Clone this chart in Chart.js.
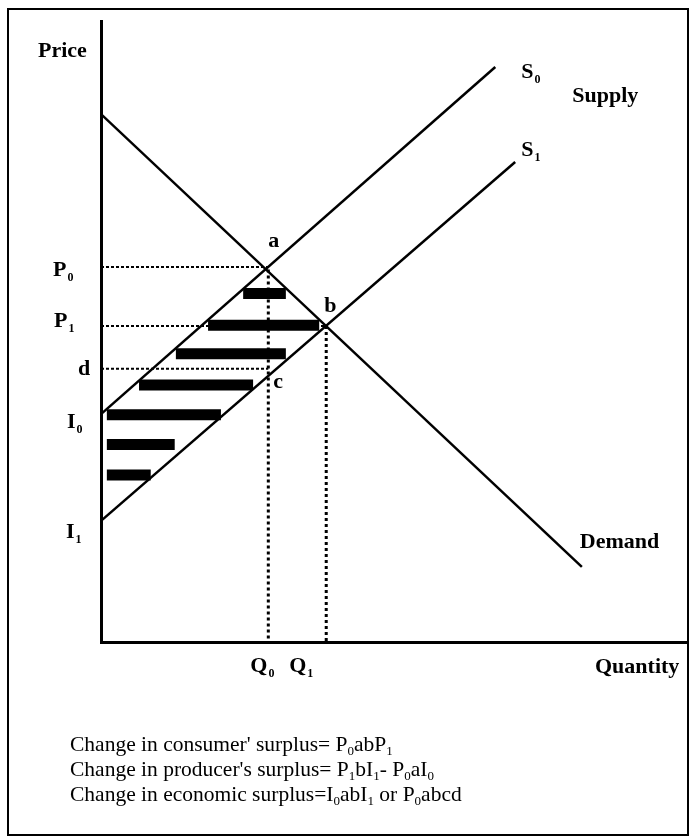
<!DOCTYPE html>
<html>
<head>
<meta charset="utf-8">
<title>Consumer and producer surplus</title>
<script src="https://cdn.jsdelivr.net/npm/chart.js@4.4.1/dist/chart.umd.min.js"></script>
<style>
  html, body { margin: 0; padding: 0; background: #fff; }
  #wrap { position: relative; width: 692px; height: 838px; }
  #frame { position: absolute; left: 7px; top: 8px; width: 678px; height: 824px; border: 2px solid #000; }
  canvas { position: absolute; left: 0; top: 0; }
  #notes { position: absolute; left: 70px; top: 732px; font-family: "Liberation Serif", "Times New Roman", serif;
           font-size: 21.5px; line-height: 25px; color: #000; white-space: nowrap; }
  #notes sub { font-size: 13px; vertical-align: -4px; line-height: 0; }
</style>
</head>
<body>
<div id="wrap">
  <div id="frame"></div>
  <canvas id="chart" width="692" height="838"></canvas>
  <div id="notes">
    <div>Change in consumer' surplus= P<sub>0</sub>abP<sub>1</sub></div>
    <div>Change in producer's surplus= P<sub>1</sub>bI<sub>1</sub>- P<sub>0</sub>aI<sub>0</sub></div>
    <div>Change in economic surplus=I<sub>0</sub>abI<sub>1</sub> or P<sub>0</sub>abcd</div>
  </div>
</div>
<script>
// curves (quantity, price) end points
const demandQ = [0, 82.2];
const demandP = [85.0, 12.1];
const supply0Q = [0, 67.4];
const supply0P = [36.7, 92.6];
const supply1Q = [0, 70.8];
const supply1P = [19.5, 77.3];

// marked points a, b, c
const pointNames = ['a', 'b', 'c'];
const pointQ = [28.6, 38.5, 28.6];
const pointP = [60.0, 50.9, 42.8];

// tick labels on the axes
const priceTickLabels = ['P_0', 'P_1', 'd', 'I_0', 'I_1'];
const priceTickValues = [60.4, 50.9, 44.0, 36.7, 19.5];
const quantityTickLabels = ['Q_0', 'Q_1'];
const quantityTickValues = [28.6, 38.5];

// hatching bars between S0 and S1
const barP = [56.1, 51.0, 46.4, 41.4, 36.6, 31.8, 26.9];
const barStart = [24.3, 18.3, 12.8, 6.5, 1.0, 1.0, 1.0];
const barEnd = [31.6, 37.3, 31.6, 26.0, 20.5, 12.6, 8.5];

const seg = (q, p) => q.map((v, i) => ({ x: v, y: p[i] }));

const lineStyle = { showLine: true, pointRadius: 0, borderColor: '#000', fill: false };

const datasets = [];
datasets.push({ ...lineStyle, data: seg(demandQ, demandP), borderWidth: 2.5 });
datasets.push({ ...lineStyle, data: seg(supply0Q, supply0P), borderWidth: 2.5 });
datasets.push({ ...lineStyle, data: seg(supply1Q, supply1P), borderWidth: 2.5 });

// dotted guides
datasets.push({ ...lineStyle, data: [{ x: 0, y: priceTickValues[0] }, { x: pointQ[0], y: priceTickValues[0] }], borderWidth: 2, borderDash: [3, 2] });
datasets.push({ ...lineStyle, data: [{ x: 0, y: priceTickValues[1] }, { x: pointQ[1], y: priceTickValues[1] }], borderWidth: 2, borderDash: [3, 2] });
datasets.push({ ...lineStyle, data: [{ x: 0, y: priceTickValues[2] }, { x: pointQ[2], y: priceTickValues[2] }], borderWidth: 2, borderDash: [3, 2] });
datasets.push({ ...lineStyle, data: [{ x: quantityTickValues[0], y: pointP[0] }, { x: quantityTickValues[0], y: 0 }], borderWidth: 3, borderDash: [3, 3] });
datasets.push({ ...lineStyle, data: [{ x: quantityTickValues[1], y: pointP[1] }, { x: quantityTickValues[1], y: 0 }], borderWidth: 3, borderDash: [3, 3] });

// bars
barP.forEach((p, i) => {
  datasets.push({ ...lineStyle, data: [{ x: barStart[i], y: p }, { x: barEnd[i], y: p }], borderWidth: 11, borderCapStyle: 'butt' });
});

const FONT = '"Liberation Serif", "Times New Roman", serif';

function drawLabel(ctx, label, x, y) {
  const parts = label.split('_');
  ctx.font = 'bold 22px ' + FONT;
  ctx.fillText(parts[0], x, y);
  if (parts[1]) {
    const w = ctx.measureText(parts[0]).width;
    ctx.font = 'bold 12px ' + FONT;
    ctx.fillText(parts[1], x + w + 1, y + 5);
  }
}

const labelPlugin = {
  id: 'econLabels',
  afterDraw(chart) {
    const { ctx, scales: { x, y }, chartArea } = chart;
    ctx.save();
    ctx.fillStyle = '#000';
    ctx.textBaseline = 'alphabetic';
    ctx.textAlign = 'left';

    // price ticks: left column and vertical offset
    const yTickLeft = [53, 54, 78, 67, 66];
    const yTickDy = [9, 1, 6, 14, 17];
    priceTickLabels.forEach((t, i) => {
      drawLabel(ctx, t, yTickLeft[i], y.getPixelForValue(priceTickValues[i]) + yTickDy[i]);
    });

    const xTickDx = [-18, -37];
    quantityTickLabels.forEach((t, i) => {
      drawLabel(ctx, t, x.getPixelForValue(quantityTickValues[i]) + xTickDx[i], chartArea.bottom + 30);
    });

    const ptDx = [0, -2, 5];
    const ptDy = [-22, -14, 12];
    pointNames.forEach((t, i) => {
      drawLabel(ctx, t, x.getPixelForValue(pointQ[i]) + ptDx[i], y.getPixelForValue(pointP[i]) + ptDy[i]);
    });

    const s0x = x.getPixelForValue(supply0Q[1]), s0y = y.getPixelForValue(supply0P[1]);
    const s1x = x.getPixelForValue(supply1Q[1]), s1y = y.getPixelForValue(supply1P[1]);
    const dx = x.getPixelForValue(demandQ[1]), dy = y.getPixelForValue(demandP[1]);
    drawLabel(ctx, 'S_0', s0x + 26, s0y + 11);
    drawLabel(ctx, 'Supply', s0x + 77, s0y + 35);
    drawLabel(ctx, 'S_1', s1x + 6, s1y - 6);
    drawLabel(ctx, 'Demand', dx - 2, dy - 19);
    drawLabel(ctx, 'Price', chartArea.left - 63, chartArea.top + 36);
    drawLabel(ctx, 'Quantity', chartArea.right - 91, chartArea.bottom + 31);
    ctx.restore();
  }
};

const axisOpts = {
  type: 'linear',
  min: 0,
  max: 100,
  ticks: { display: false },
  grid: { display: false, drawTicks: false },
  border: { display: true, color: '#000', width: 3 },
  afterFit(scale) {
    if (scale.isHorizontal()) scale.height = 0; else scale.width = 0;
  }
};

new Chart(document.getElementById('chart').getContext('2d'), {
  type: 'scatter',
  data: { datasets },
  options: {
    responsive: false,
    devicePixelRatio: 1,
    animation: false,
    layout: { padding: { left: 101, right: 6, top: 21, bottom: 196 } },
    plugins: { legend: { display: false }, tooltip: { enabled: false } },
    scales: { x: { ...axisOpts }, y: { ...axisOpts } }
  },
  plugins: [labelPlugin]
});
</script>
</body>
</html>
